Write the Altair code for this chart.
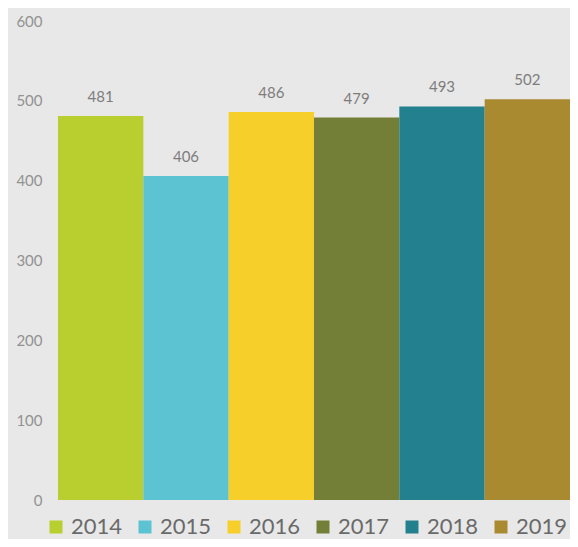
import altair as alt
import pandas as pd

years = ["2014", "2015", "2016", "2017", "2018", "2019"]
values = [481, 406, 486, 479, 493, 502]
colors = ["#b8cf2f", "#5cc3d3", "#f7cf2b", "#737f37", "#22808f", "#a98a30"]
y_ticks = [0, 100, 200, 300, 400, 500, 600]

df = pd.DataFrame({"Year": years, "Value": values})

font = "Lato"

base = alt.Chart(df).encode(
    x=alt.X("Year:N", sort=years, axis=None,
            scale=alt.Scale(paddingInner=0, paddingOuter=0)),
    y=alt.Y("Value:Q", scale=alt.Scale(domain=[0, 600], nice=False),
            axis=alt.Axis(values=y_ticks, grid=False, domain=False, ticks=False,
                          labelPadding=16, labelFont=font, labelFontSize=15,
                          labelColor="#929292", title=None)),
)

bars = base.mark_bar().encode(
    color=alt.Color("Year:N", sort=years,
                    scale=alt.Scale(domain=years, range=colors),
                    legend=alt.Legend(title=None, orient="none", direction="horizontal",
                                      legendX=-13, legendY=495,
                                      symbolType="square", symbolSize=169,
                                      symbolStrokeWidth=0, labelFont=font,
                                      labelFontSize=22, labelColor="#6a6a6a",
                                      labelOffset=4, columnPadding=11,
                                      columns=6))
)

labels = base.mark_text(dy=-11, baseline="bottom", font=font, fontSize=15,
                        color="#7d7d7d").encode(text="Value:Q")

chart = (bars + labels).properties(
    width=512, height=479,
    background="#e8e8e8",
    autosize=alt.AutoSizeParams(type="none"),
    padding={"left": 50, "top": 13, "right": 0, "bottom": 39},
).configure_view(stroke=None)

chart.save("out.html", embed_options={"renderer": "svg", "actions": False})
